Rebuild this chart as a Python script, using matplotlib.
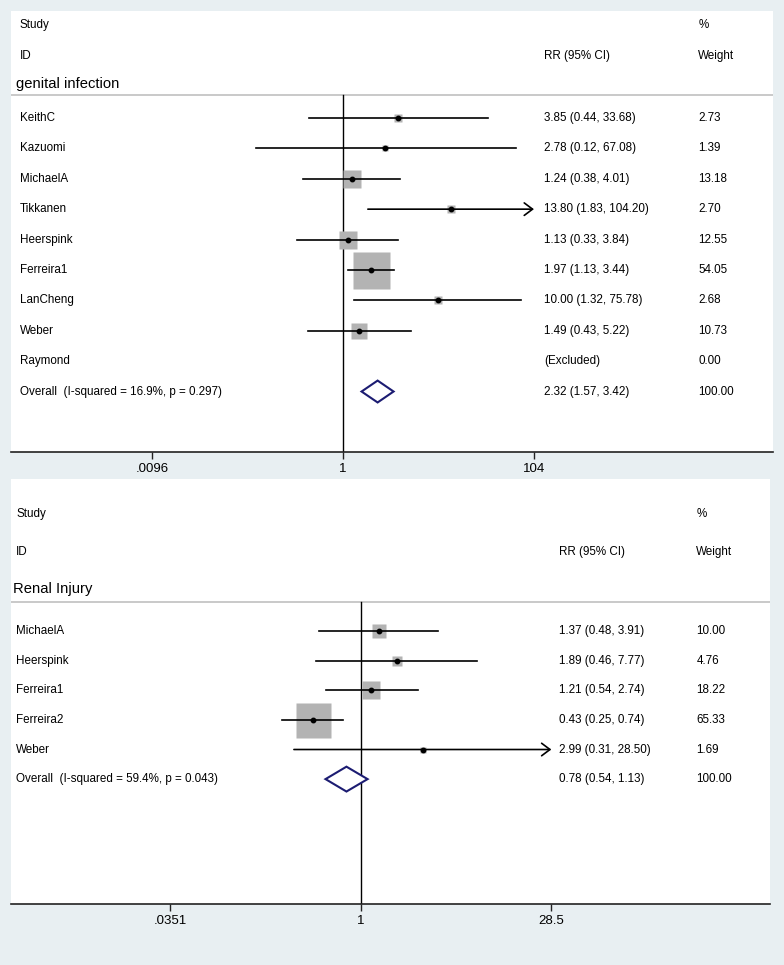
import numpy as np
import matplotlib.pyplot as plt
from matplotlib.patches import Polygon
import matplotlib.transforms as mtransforms

plt.rcParams['font.family'] = ['Liberation Sans', 'DejaVu Sans']

BG = '#e8eff2'
BOX = '#b3b3b3'
NAVY = '#1c1c72'

# ---- genital infection ----
gi_study = ['KeithC', 'Kazuomi', 'MichaelA', 'Tikkanen', 'Heerspink',
            'Ferreira1', 'LanCheng', 'Weber', 'Raymond']
gi_rr = [3.85, 2.78, 1.24, 13.80, 1.13, 1.97, 10.00, 1.49, None]
gi_lo = [0.44, 0.12, 0.38, 1.83, 0.33, 1.13, 1.32, 0.43, None]
gi_hi = [33.68, 67.08, 4.01, 104.20, 3.84, 3.44, 75.78, 5.22, None]
gi_weight = [2.73, 1.39, 13.18, 2.70, 12.55, 54.05, 2.68, 10.73, 0.00]
gi_overall = (2.32, 1.57, 3.42)
gi_overall_label = 'Overall  (I-squared = 16.9%, p = 0.297)'
gi_ticks = [0.0096, 1, 104]
gi_ticklabels = ['.0096', '1', '104']

# ---- renal injury ----
ri_study = ['MichaelA', 'Heerspink', 'Ferreira1', 'Ferreira2', 'Weber']
ri_rr = [1.37, 1.89, 1.21, 0.43, 2.99]
ri_lo = [0.48, 0.46, 0.54, 0.25, 0.31]
ri_hi = [3.91, 7.77, 2.74, 0.74, 28.50]
ri_weight = [10.00, 4.76, 18.22, 65.33, 1.69]
ri_overall = (0.78, 0.54, 1.13)
ri_overall_label = 'Overall  (I-squared = 59.4%, p = 0.043)'
ri_ticks = [0.0351, 1, 28.5]
ri_ticklabels = ['.0351', '1', '28.5']


def draw_panel(ax, title, study, rr, lo, hi, weight, overall, overall_label,
               ticks, ticklabels, xlim, ylim, head_y, x_lab, x_title, x_rr,
               x_wt, max_box_px, dh):
    ax.set_facecolor('white')
    ax.set_xlim(*xlim)
    ax.set_ylim(*ylim)
    for s in ['top', 'left', 'right']:
        ax.spines[s].set_visible(False)
    ax.spines['bottom'].set_color('#222222')
    ax.spines['bottom'].set_linewidth(1.2)
    ax.set_yticks([])
    ax.set_xticks(np.log(ticks))
    ax.set_xticklabels(ticklabels)
    ax.tick_params(axis='x', length=5, width=1, labelsize=9.5, pad=3,
                   color='#222222')

    tr = mtransforms.blended_transform_factory(ax.transAxes, ax.transData)
    fs = 8.4
    y_study, y_id, y_title, y_sep = head_y

    ax.text(x_lab, y_study, 'Study', transform=tr, fontsize=fs, va='center')
    ax.text(x_lab, y_id, 'ID', transform=tr, fontsize=fs, va='center')
    ax.text(x_wt, y_study, '%', transform=tr, fontsize=fs, va='center')
    ax.text(x_rr, y_id, 'RR (95% CI)', transform=tr, fontsize=fs, va='center')
    ax.text(x_wt, y_id, 'Weight', transform=tr, fontsize=fs, va='center')
    ax.text(x_title, y_title, title, transform=tr, fontsize=10.6, va='center')
    ax.plot([0, 1], [y_sep, y_sep], transform=tr, color='#c0c0c0', lw=1.2)

    # null line
    ax.plot([0, 0], [y_sep, ylim[0]], color='black', lw=1)

    wmax = max(weight)
    x_max = np.log(ticks[-1])
    x_min = np.log(ticks[0])
    for i, name in enumerate(study):
        ax.text(x_lab, i, name, transform=tr, fontsize=fs, va='center')
        ax.text(x_wt, i, f'{weight[i]:.2f}', transform=tr, fontsize=fs,
                va='center')
        if rr[i] is None:
            ax.text(x_rr, i, '(Excluded)', transform=tr, fontsize=fs,
                    va='center')
            continue
        ax.text(x_rr, i, f'{rr[i]:.2f} ({lo[i]:.2f}, {hi[i]:.2f})',
                transform=tr, fontsize=fs, va='center')
        side = max_box_px * np.sqrt(weight[i] / wmax) * 0.72
        ax.plot(np.log(rr[i]), i, marker='s', ms=side, mfc=BOX, mec='none',
                zorder=2)
        l, h = np.log(lo[i]), np.log(hi[i])
        if h >= x_max - 1e-9:
            ax.annotate('', xy=(x_max, i), xytext=(max(l, x_min), i),
                        arrowprops=dict(arrowstyle='->,head_length=0.6,head_width=0.45',
                                        lw=1.2, color='black',
                                        shrinkA=0, shrinkB=0), zorder=3)
        else:
            ax.plot([max(l, x_min), h], [i, i], color='black', lw=1.2,
                    zorder=3)
        ax.plot(np.log(rr[i]), i, 'o', color='black', ms=3.2, zorder=4)

    yo = len(study)
    est, olo, ohi = [np.log(v) for v in overall]
    ax.add_patch(Polygon([(olo, yo), (est, yo - dh), (ohi, yo), (est, yo + dh)],
                         closed=True, fc='white', ec=NAVY, lw=1.5, zorder=3))
    ax.text(x_lab, yo, overall_label, transform=tr, fontsize=fs, va='center')
    ax.text(x_rr, yo, f'{overall[0]:.2f} ({overall[1]:.2f}, {overall[2]:.2f})',
            transform=tr, fontsize=fs, va='center')
    ax.text(x_wt, yo, '100.00', transform=tr, fontsize=fs, va='center')


W, H = 784, 965
fig = plt.figure(figsize=(W / 100, H / 100), dpi=100, facecolor=BG)

# top panel: white area x 11-773, y 11-452
ax1 = fig.add_axes([11 / W, (H - 452) / H, 762 / W, 441 / H])
draw_panel(ax1, 'genital infection', gi_study, gi_rr, gi_lo, gi_hi, gi_weight,
           gi_overall, gi_overall_label, gi_ticks, gi_ticklabels,
           xlim=(-8.076, 10.459), ylim=(10.99, -3.52),
           head_y=(-3.06, -2.04, -1.12, -0.76),
           x_lab=0.0118, x_title=0.007, x_rr=0.7, x_wt=0.902,
           max_box_px=37, dh=0.36)

# bottom panel: white area x 11-770, y 479-904
ax2 = fig.add_axes([11 / W, (H - 904) / H, 759 / W, 425 / H])
draw_panel(ax2, 'Renal Injury', ri_study, ri_rr, ri_lo, ri_hi, ri_weight,
           ri_overall, ri_overall_label, ri_ticks, ri_ticklabels,
           xlim=(-6.14, 7.19), ylim=(9.22, -5.14),
           head_y=(-3.95, -2.67, -1.42, -0.98),
           x_lab=0.0066, x_title=0.002, x_rr=0.722, x_wt=0.903,
           max_box_px=35, dh=0.42)

fig.savefig('out.png', dpi=100, facecolor=BG)
